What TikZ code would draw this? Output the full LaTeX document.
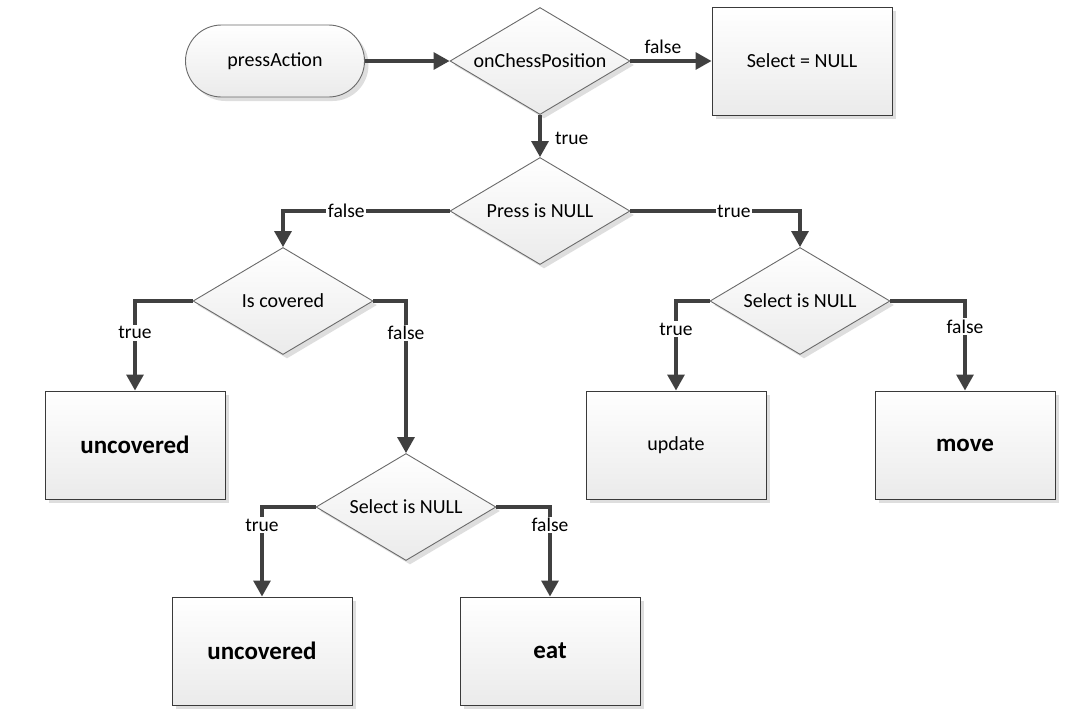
\documentclass[tikz,border=0pt]{standalone}
\usepackage{fontspec}
\setmainfont{Carlito}
\usetikzlibrary{shapes.geometric,arrows.meta,shadows}
\definecolor{linec}{HTML}{404040}
\definecolor{boxb}{HTML}{3A3A3A}
\definecolor{diab}{HTML}{6A6A6A}
\tikzset{
  shd/.style={drop shadow={shadow xshift=4pt,shadow yshift=-4pt,fill=black!13,opacity=1}},
  grad/.style={top color=white,bottom color=black!8},
  boxnode/.style={rectangle,draw=boxb,line width=1pt,grad,shd,minimum width=180pt,minimum height=108pt,inner sep=0pt,font=\fontsize{20}{24}\selectfont},
  bigbox/.style={boxnode,font=\fontsize{25}{30}\selectfont\bfseries},
  startnode/.style={rectangle,rounded corners=36pt,draw=diab,line width=0.9pt,grad,shd,minimum width=179pt,minimum height=72pt,inner sep=0pt,font=\fontsize{20}{24}\selectfont},
  decide/.style={diamond,draw=diab,line width=0.9pt,grad,shd,aspect=1.68,inner sep=0pt,minimum width=180pt,minimum height=107pt,font=\fontsize{20}{24}\selectfont},
  conn/.style={draw=linec,line width=3.2pt,-{Triangle[length=16pt,width=17pt]}},
  lbl/.style={fill=white,inner sep=1.5pt,text=black,font=\fontsize{19.5}{23}\selectfont},
  plbl/.style={inner sep=1.5pt,text=black,font=\fontsize{19.5}{23}\selectfont}
}
\begin{document}
\begin{tikzpicture}[x=1pt,y=-1pt]
\useasboundingbox (0,0) rectangle (1090,724);
\node[startnode] (pa) at (275,61) {pressAction};
\node[decide] (ocp) at (540,61) {onChessPosition};
\node[boxnode] (sel) at (802,61) {Select = NULL};
\node[decide] (pin) at (540,211) {Press is NULL};
\node[decide] (ic) at (283,301) {Is covered};
\node[decide] (sr) at (800,301) {Select is NULL};
\node[bigbox] (unc1) at (135,445) {uncovered};
\node[decide] (sl) at (406,507) {Select is NULL};
\node[boxnode] (upd) at (676,445) {update};
\node[bigbox] (mv) at (965,445) {move};
\node[bigbox] (unc2) at (262,651) {uncovered};
\node[bigbox] (eat) at (550,651) {eat};

\draw[conn] (pa.east) -- (ocp.west);
\draw[conn] (ocp.east) -- node[plbl,above,yshift=4pt,pos=0.4] {false} (sel.west);
\draw[conn] (ocp.south) -- node[plbl,right,xshift=12pt,pos=0.55] {true} (pin.north);
\draw[conn] (pin.west) -| node[lbl,pos=0.31] {false} (ic.north);
\draw[conn] (pin.east) -| node[lbl,pos=0.305] {true} (sr.north);
\draw[conn] (ic.west) -| node[lbl,pos=0.678] {true} (unc1.north);
\draw[conn] (ic.east) -| node[lbl,pos=0.605] {false} (sl.north);
\draw[conn] (sl.west) -| node[lbl,pos=0.6] {true} (unc2.north);
\draw[conn] (sl.east) -| node[lbl,pos=0.6] {false} (eat.north);
\draw[conn] (sr.west) -| node[lbl,pos=0.656] {true} (upd.north);
\draw[conn] (sr.east) -| node[lbl,pos=0.644] {false} (mv.north);
\end{tikzpicture}
\end{document}
